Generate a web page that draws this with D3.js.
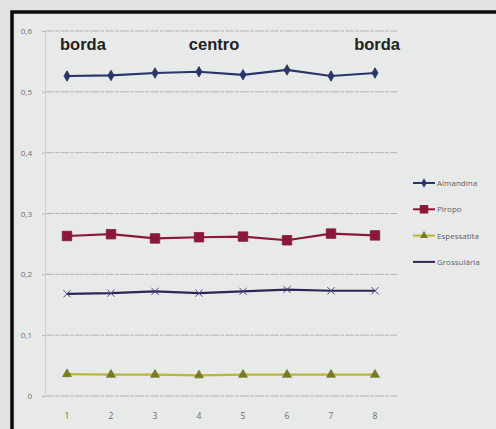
<!DOCTYPE html>
<html><head><meta charset="utf-8">
<script src="https://cdn.jsdelivr.net/npm/d3@7"></script>
<style>html,body{margin:0;padding:0;background:#e2e4e3;overflow:hidden}</style>
</head><body>
<svg id="c" width="496" height="429"></svg>
<script>
const categories = [1,2,3,4,5,6,7,8];
const almandina = [0.526,0.527,0.531,0.533,0.528,0.536,0.526,0.531];
const piropo = [0.263,0.266,0.259,0.261,0.262,0.256,0.267,0.264];
const espessartita = [0.036,0.035,0.035,0.034,0.035,0.035,0.035,0.035];
const grossularia = [0.168,0.169,0.172,0.169,0.172,0.175,0.173,0.173];
const seriesNames = ["Almandina","Piropo","Espessatita","Grossulária"];
const yTicks = [0,0.1,0.2,0.3,0.4,0.5,0.6];
const annotations = [["borda",1],["centro",4],["borda",8]];

const svg = d3.select("#c");
svg.append("rect").attr("x",12).attr("y",12).attr("width",520).attr("height",450)
  .attr("fill","#e8eae9").attr("stroke","#0a0a0a").attr("stroke-width",3.5);

const x = d3.scaleBand().domain(categories).range([45,397]);
const y = d3.scaleLinear().domain([0,0.6]).range([396,31]);
const cx = d => x(d) + x.bandwidth()/2;

// grid
svg.append("g").selectAll("line").data(yTicks).join("line")
  .attr("x1",45).attr("x2",397).attr("y1",d=>y(d)).attr("y2",d=>y(d))
  .attr("stroke","#b4b6b6").attr("stroke-width",1).attr("stroke-dasharray","9,1,4,1");

const fmt = d => d===0 ? "0" : d3.format(".1f")(d).replace(".",",");
const yAxis = svg.append("g").attr("transform","translate(45,0)")
  .call(d3.axisLeft(y).tickValues(yTicks).tickFormat(fmt).tickSize(3).tickPadding(10));
yAxis.select(".domain").attr("stroke","#cfd1d1");
yAxis.selectAll(".tick line").attr("stroke","#b5b7b7");
yAxis.selectAll("text").attr("font-family","Open Sans, sans-serif").attr("font-size",8).attr("fill","#6a6d6d");

const xAxis = svg.append("g").attr("transform","translate(0,396)")
  .call(d3.axisBottom(x).tickSize(0).tickPadding(17));
xAxis.select(".domain").remove();
xAxis.selectAll("text").attr("font-family","Open Sans, sans-serif").attr("font-size",8.5).attr("fill","#6a6d6d");

const series = [
  {name:seriesNames[0], v:almandina, color:"#27356a", sym:d3.symbolDiamond, size:32, mfill:"#27356a"},
  {name:seriesNames[1], v:piropo, color:"#8a1836", sym:d3.symbolSquare, size:90, mfill:"#8a1836"},
  {name:seriesNames[2], v:espessartita, color:"#b9b634", sym:d3.symbolTriangle, size:34, mfill:"#7a7a22"},
  {name:seriesNames[3], v:grossularia, color:"#2f2553", sym:d3.symbolX, size:36, mfill:"none"}
];
const line = d3.line().x((d,i)=>cx(categories[i])).y(d=>y(d));
series.forEach(s=>{
  svg.append("path").datum(s.v).attr("d",line).attr("fill","none")
    .attr("stroke",s.color).attr("stroke-width",2.2);
  svg.append("g").selectAll("path").data(s.v).join("path")
    .attr("transform",(d,i)=>`translate(${cx(categories[i])},${y(d)})`)
    .attr("d",d3.symbol(s.sym,s.size))
    .attr("fill",s.mfill)
    .attr("stroke",s.sym===d3.symbolX ? "#4a4a88" : s.mfill)
    .attr("stroke-width",s.sym===d3.symbolX?1:0.8);
});

// annotations
svg.append("g").selectAll("text").data(annotations).join("text")
  .attr("x",(d,i)=> i===0 ? cx(d[1])-7 : i===2 ? cx(d[1])+25 : cx(d[1])+15)
  .attr("y",50)
  .attr("text-anchor",(d,i)=> i===0?"start": i===2?"end":"middle")
  .attr("font-family","Liberation Sans, Arial, sans-serif").attr("font-weight","bold")
  .attr("font-size",16.5).attr("fill","#222").text(d=>d[0]);

// legend
const lg = svg.append("g").attr("transform","translate(413,183)");
series.forEach((s,i)=>{
  const g = lg.append("g").attr("transform",`translate(0,${i*26.3})`);
  g.append("line").attr("x1",0).attr("x2",22).attr("stroke",s.color).attr("stroke-width",2);
  if (s.sym!==d3.symbolX) g.append("path").attr("transform","translate(11,0)")
    .attr("d",d3.symbol(s.sym,s.size*0.8)).attr("fill",s.mfill);
  g.append("text").attr("x",24).attr("y",3).attr("font-family","Open Sans, sans-serif")
    .attr("font-size",8).attr("fill","#5e6161").text(s.name);
});
</script>
</body></html>
